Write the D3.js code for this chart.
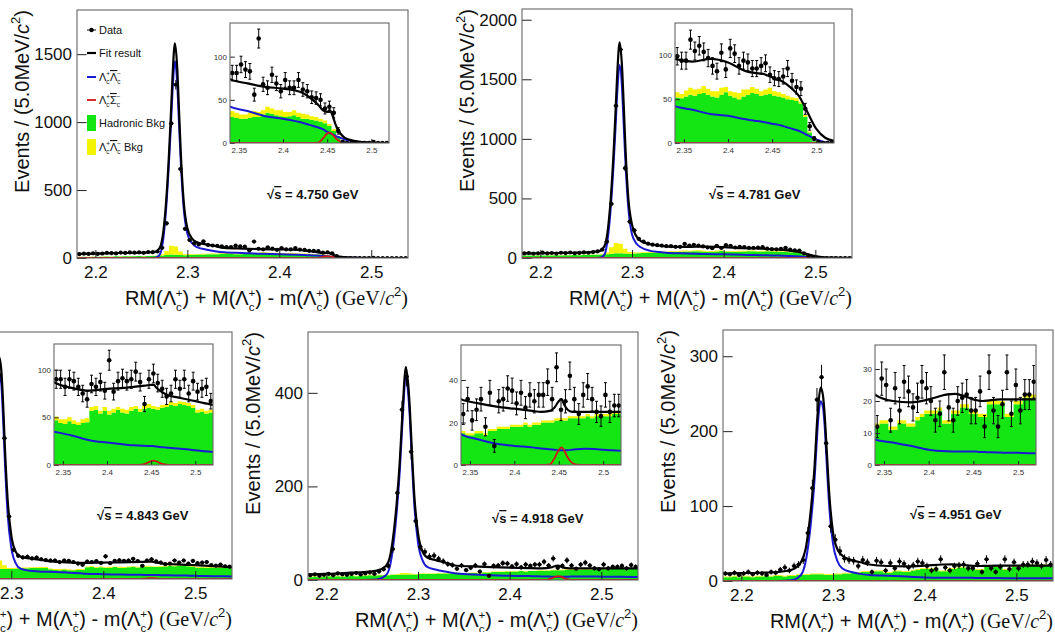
<!DOCTYPE html>
<html>
<head>
<meta charset="utf-8">
<script src="https://cdn.jsdelivr.net/npm/d3@7"></script>
<style>
body { margin: 0; background: #fff; }
text { font-family: "Liberation Sans", Arial, Helvetica, sans-serif; fill: #111; }
</style>
</head>
<body>
<svg id="chart" width="1055" height="632"></svg>
<script>
// 72 bins of 5 MeV from 2.18 to 2.54 GeV/c2
var binLo = 2.18, binW = 0.005;
var xTicks = [2.2, 2.3, 2.4, 2.5];
var insetXTicks = [2.35, 2.4, 2.45, 2.5];

// ---- data points (events per bin) ----
var data4750 = [28,32,30,35,31,33,38,36,34,40,37,41,39,42,38,44,43,
  48,75,255,990,1275,655,215,132,108,100,122,96,92,90,86,
  81,81,91,85,83,56,121,68,64,79,69,60,73,64,64,73,62,60,53,52,50,40,42,35,14,1,0,0,0,0,0,0,1,0,0,0,
  0,0,0,0];
var data4781 = [38,42,36,40,45,39,42,37,44,41,46,40,43,47,44,50,55,
  70,137,454,1277,1750,754,305,232,160,138,120,112,108,104,100,
  99,94,94,118,105,111,104,97,88,82,103,84,108,102,88,94,92,85,85,88,91,78,74,73,76,85,71,64,62,39,19,5,1,0,0,0,
  0,0,0,0];
var data4843 = [48,44,50,46,52,49,47,55,51,53,50,56,54,58,55,60,62,
  75,170,420,820,990,684,304,142,113,105,108,100,104,96,92,
  90,90,82,90,88,82,75,69,85,82,87,78,110,77,88,91,88,90,98,87,64,90,96,86,80,72,75,90,80,90,75,88,77,80,82,67,
  65,70,62,60];
var data4918 = [10,12,9,11,13,10,14,12,11,13,15,12,14,16,13,18,23,
  30,66,186,364,435,274,126,71,60,50,52,45,40,34,32,
  24,31,21,26,31,18,34,9,30,31,36,35,29,34,27,33,30,33,33,39,31,46,26,30,42,31,24,33,37,31,25,23,33,25,28,28,
  30,25,32,28];
var data4951 = [10,9,11,8,10,12,9,11,10,8,12,11,15,18,14,20,22,
  28,64,124,242,272,184,73,55,40,30,28,27,20,28,25,
  12,27,25,14,24,17,26,23,18,21,26,24,20,14,16,29,18,14,20,21,22,17,17,23,12,29,17,12,19,29,16,25,17,22,22,26,
  24,20,28,22];

// ---- hadronic background (green) ----
var hadr4750 = [8,9,8,10,9,10,11,10,12,11,12,13,12,14,13,14,15,
  16,18,22,25,24,22,20,22,24,25,26,27,28,28,29,
  30,29,28,28,29,30,30,33,35,34,32,31,30,31,32,30,28,28,27,26,25,23,20,14,7,2,0,0,0,0,0,0,0,0,0,0,
  0,0,0,0];
var hadr4781 = [18,20,19,21,20,22,21,23,22,24,23,25,24,26,25,27,28,
  30,32,36,40,40,38,36,38,40,42,44,45,46,47,48,
  52,51,53,55,54,56,57,55,53,52,55,58,54,52,50,53,55,57,56,54,55,56,54,53,52,50,49,48,45,30,12,2,0,0,0,0,
  0,0,0,0];
var hadr4843 = [30,32,31,33,34,33,35,36,35,37,38,37,39,40,39,41,42,
  44,46,48,50,50,49,48,50,51,52,52,53,53,54,54,
  47,44,43,46,43,42,44,45,57,58,54,57,53,55,58,55,54,57,59,56,59,60,59,58,60,61,63,62,64,63,62,60,55,56,54,55,
  55,54,56,55];
var hadr4918 = [6,7,6,7,8,7,8,7,8,9,8,9,9,10,9,10,10,
  10,11,11,12,12,12,12,13,13,13,13,14,14,14,14,
  15,14,14,15,15,14,16,16,17,17,17,18,18,18,19,18,19,19,20,20,20,21,21,21,22,22,22,22,23,22,23,23,23,23,24,24,
  24,24,24,24];
var hadr4951 = [5,5,6,5,6,6,5,6,6,7,6,7,7,6,7,7,8,
  8,8,9,9,9,8,8,9,9,10,10,11,11,12,12,
  12,13,13,11,11,13,13,12,12,14,15,16,16,16,17,13,13,16,16,18,18,16,16,15,15,19,19,19,19,15,15,19,19,21,21,21,
  21,21,21,21];

// ---- Lc Lcbar background (yellow, stacked on green) ----
var llbk4750 = [1,1,1,1,1,1,1,1,1,1,1,1,1,1,1,1,1,
  3,10,30,65,60,25,8,5,4,4,5,5,5,6,6,
  7,6,5,5,6,7,6,5,7,6,6,7,6,5,6,5,6,5,4,4,3,3,2,2,1,0,0,0,0,0,0,0,0,0,0,0,
  0,0,0,0];
var llbk4781 = [2,2,2,2,2,2,2,2,2,2,2,2,2,2,2,2,2,
  5,15,55,85,80,40,15,8,6,6,6,6,6,6,6,
  6,5,7,8,7,6,8,7,6,7,8,6,5,6,7,8,6,7,6,5,6,7,5,5,4,4,3,3,2,2,1,0,0,0,0,0,
  0,0,0,0];
var llbk4843 = [3,3,3,3,3,3,3,3,3,3,3,3,3,3,3,3,3,
  5,12,30,45,40,18,6,4,4,4,4,4,4,4,4,
  4,4,5,4,4,3,4,4,4,4,3,4,4,4,3,4,4,4,3,3,4,4,3,3,3,3,3,3,3,3,3,3,3,3,3,3,
  3,3,3,3];
var llbk4918 = [1,1,1,1,1,1,1,1,1,1,1,1,1,1,1,1,1,
  1,1,2,3,3,2,1,1,1,1,1,1,1,1,1,
  1,1,1,1,1,1,1,1,1,1,1,1,1,1,1,1,1,1,1,1,1,1,1,1,1,1,1,1,1,1,1,1,1,1,1,1,
  1,1,1,1];
var llbk4951 = [1,1,1,1,1,1,1,1,1,1,1,1,1,1,1,1,1,
  1,1,1,1,1,1,1,1,1,1,1,1,1,1,1,
  1,1,1,1,1,1,1,1,1,1,1,1,1,1,1,1,1,1,1,1,1,1,1,1,1,1,1,1,1,1,1,1,1,1,1,1,
  1,1,1,1];

// ---- fit curves, read at these masses ----
var curveX = [2.18,2.2,2.22,2.24,2.255,2.265,2.27,2.274,2.277,2.28,2.282,2.284,2.2865,2.289,2.291,2.293,2.296,2.3,2.305,2.31,2.32,2.33,2.34,2.36,2.38,2.4,2.42,2.43,2.44,2.445,2.45,2.453,2.456,2.46,2.465,2.47,2.48,2.49,2.5,2.51,2.52,2.54];

var fit4750 = [30,32,36,38,40,46,75,200,420,760,1040,1350,1580,1400,1080,760,420,220,145,118,100,88,74,69,65,63,59,53,44,38,36,38,32,20,11,6,2.5,1,0.3,0,0,0];
var sig4750 = [0,0,0,0,0,2,25,150,370,700,960,1240,1450,1280,980,690,370,180,110,82,62,50,42,37,31,28,24,21,18,16,13,11.5,10,8,6,4,2,0.7,0.2,0,0,0];
var sc4750  = [0,0,0,0,0,0,0,0,0,0,0,0,0,0,0,0,0,0,0,0,0,0,0,0,0,0,0,0,0.5,5,11,12,10,5,1.5,0.3,0,0,0,0,0,0];

var fit4781 = [38,40,42,45,50,60,100,260,520,900,1220,1560,1810,1620,1280,900,500,280,180,140,115,104,96,93,96,92,82,80,79,77,75,73,72,71,68,64,54,35,16,6,2.5,0.3];
var sig4781 = [0,0,0,0,0,2,30,190,440,800,1090,1400,1620,1440,1110,780,420,200,120,88,60,50,42,38,33,31,27,25.5,24,23,22,21.5,21,20,18.5,17,14,9,4,1,0.3,0];
var sc4781  = [0,0,0,0,0,0,0,0,0,0,0,0,0,0,0,0,0,0,0,0,0,0,0,0,0,0,0,0,0,0,0,0,0,0,0,0,0,0,0,0,0,0];

var fit4843 = [45,47,50,52,55,62,90,200,370,620,810,980,1080,1020,860,640,385,210,130,108,100,94,87,81,78,80,81,82,83,83.5,84,84,81,78,75,73,71,69,67,65,63,58];
var sig4843 = [0,0,0,0,0,2,30,150,320,560,740,910,1000,950,780,570,315,150,75,50,40,37,35,31,26,23.5,21.5,20.7,20.3,20,20,19.8,19.5,19,18.5,18,17.3,16.5,15.5,14.5,13.7,12.5];
var sc4843  = [0,0,0,0,0,0,0,0,0,0,0,0,0,0,0,0,0,0,0,0,0,0,0,0,0,0,0,0,0.3,2,4,4.5,3.8,2,0.6,0.1,0,0,0,0,0,0];

var fit4918 = [12,13,15,17,20,30,55,110,170,250,320,390,455,425,370,290,180,100,60,48,42,37,31,29,27.5,26.5,25.5,25,25.5,27,30,31,28.5,26,25,25,25,25,25,25,25,25];
var sig4918 = [0,0,0,0,1,10,35,90,150,230,300,370,436,405,350,270,160,80,42,28,22,18,14.5,12,10,9,8.3,7.8,7.4,7.2,7,7,7,7,7.2,7.4,7.6,7.5,7.2,6.9,6.7,6.5];
var sc4918  = [0,0,0,0,0,0,0,0,0,0,0,0,0,0,0,0,0,0,0,0,0,0,0,0,0,0,0,0,0.3,3,7,8.3,7,3.5,1,0.2,0,0,0,0,0,0];

var fit4951 = [10,10.5,11,12,15,25,42,75,110,155,200,235,258,248,220,178,115,65,42,34,28,25,22,20,19.6,20.5,22,22.2,21.5,21,20.5,20.3,20.1,20,20.1,20.3,20.5,20.5,20.5,20.5,20.5,20.5];
var sig4951 = [0,0,0,0,1,8,25,57,92,138,180,218,240,232,205,160,98,50,26,17,12,9.5,8,7,6,4.8,4.3,4.2,4.2,4.2,4.2,4.2,4.1,4.1,4,4,3.9,3.8,3.8,3.7,3.7,3.6];
var sc4951  = [0,0,0,0,0,0,0,0,0,0,0,0,0,0,0,0,0,0,0,0,0,0,0,0,0,0,0,0,0,0,0,0,0,0,0,0,0,0,0,0,0,0];

var colGreen = "#14e614", colYellow = "#f4f400", colBlue = "#1a1ad2", colRed = "#d41414";

// panel layout (pixels)
var panels = [
  { e: "4.750", data: data4750, hadr: hadr4750, yel: llbk4750, fit: fit4750, sig: sig4750, sc: sc4750,
    frame: { x0: 77, x1: 408, y0: 10, y1: 258 }, ymax: 1825, yticks: [0, 500, 1000, 1500],
    inset: { x0: 230, x1: 389, y0: 23, y1: 143, ymax: 139, yticks: [0, 50, 100] },
    tag: { x: 267, y: 199 }, legend: true },
  { e: "4.781", data: data4781, hadr: hadr4781, yel: llbk4781, fit: fit4781, sig: sig4781, sc: sc4781,
    frame: { x0: 522, x1: 852, y0: 9, y1: 258 }, ymax: 2090, yticks: [0, 500, 1000, 1500, 2000],
    inset: { x0: 675, x1: 834, y0: 23, y1: 143, ymax: 137, yticks: [0, 50, 100] },
    tag: { x: 709, y: 199 } },
  { e: "4.843", data: data4843, hadr: hadr4843, yel: llbk4843, fit: fit4843, sig: sig4843, sc: sc4843,
    frame: { x0: -99, x1: 232, y0: 332, y1: 579 }, ymax: 1200, yticks: [0, 500, 1000],
    inset: { x0: 54, x1: 213, y0: 344, y1: 465, ymax: 127, yticks: [0, 50, 100] },
    tag: { x: 97, y: 520 } },
  { e: "4.918", data: data4918, hadr: hadr4918, yel: llbk4918, fit: fit4918, sig: sig4918, sc: sc4918,
    frame: { x0: 308, x1: 638, y0: 332, y1: 580 }, ymax: 530, yticks: [0, 200, 400],
    inset: { x0: 461, x1: 621, y0: 345, y1: 465, ymax: 56.5, yticks: [0, 20, 40] },
    tag: { x: 492, y: 523 } },
  { e: "4.951", data: data4951, hadr: hadr4951, yel: llbk4951, fit: fit4951, sig: sig4951, sc: sc4951,
    frame: { x0: 723, x1: 1053, y0: 330, y1: 581 }, ymax: 335, yticks: [0, 100, 200, 300],
    inset: { x0: 875, x1: 1036, y0: 345, y1: 465, ymax: 37.5, yticks: [0, 10, 20, 30] },
    tag: { x: 910, y: 519 } }
];

var svg = d3.select("#chart");
var defs = svg.append("defs");
var clipN = 0;

function binCenter(i) { return binLo + (i + 0.5) * binW; }

// rich text: strings, {p:"Λ", s:"+", bar}, {sup:"2"}, {serif:"..", it}
function rich(t, parts, fs) {
  var cur = 0;
  function span(txt, off, size) {
    var s = t.append("tspan").attr("dy", off - cur).text(txt);
    cur = off;
    if (size) s.attr("font-size", size);
    return s;
  }
  parts.forEach(function(p) {
    if (typeof p === "string") span(p, 0);
    else if (p.serif) {
      span(p.serif, 0).style("font-family", "'Liberation Serif', 'Times New Roman', serif")
        .style("font-style", p.it ? "italic" : null);
    } else if (p.it) span(p.it, 0).style("font-style", "italic");
    else if (p.p) {
      var s = span(p.p, 0);
      if (p.bar) s.style("text-decoration", "overline");
      span("c", fs * 0.3, fs * 0.58);
      span(p.s, -fs * 0.42, fs * 0.58).attr("dx", -fs * 0.3);
    } else if (p.sup) span(p.sup, -fs * 0.45, fs * 0.65);
  });
}

function drawContent(g, x, y, p, i0, i1, small) {
  var cid = "clip" + (clipN++);
  var xr = x.range(), yr = y.range();
  defs.append("clipPath").attr("id", cid).append("rect")
    .attr("x", xr[0]).attr("y", yr[1])
    .attr("width", xr[1] - xr[0]).attr("height", yr[0] - yr[1]);
  var c = g.append("g").attr("clip-path", "url(#" + cid + ")");

  // stacked step histograms
  var steps = d3.range(i0, i1 + 2).map(function(i) {
    var k = Math.min(i, i1);
    return { x: binLo + i * binW, g: p.hadr[k], yl: p.yel[k] };
  });
  c.append("path").datum(steps).attr("fill", colGreen)
    .attr("d", d3.area().curve(d3.curveStepAfter)
      .x(function(d) { return x(d.x); }).y0(y(0)).y1(function(d) { return y(d.g); }));
  c.append("path").datum(steps).attr("fill", colYellow)
    .attr("d", d3.area().curve(d3.curveStepAfter)
      .x(function(d) { return x(d.x); })
      .y0(function(d) { return y(d.g); }).y1(function(d) { return y(d.g + d.yl); }));

  // fit components
  var line = d3.line().curve(d3.curveMonotoneX)
    .x(function(d) { return x(d[0]); }).y(function(d) { return y(d[1]); });
  function pts(arr) { return curveX.map(function(cx, j) { return [cx, arr[j]]; }); }
  c.append("path").attr("d", line(pts(p.sig))).attr("fill", "none")
    .attr("stroke", colBlue).attr("stroke-width", 2);
  c.append("path").attr("d", line(pts(p.sc))).attr("fill", "none")
    .attr("stroke", colRed).attr("stroke-width", 1.8);
  c.append("path").attr("d", line(pts(p.fit))).attr("fill", "none")
    .attr("stroke", "#000").attr("stroke-width", 2.2);

  // data with errors
  var dg = c.append("g").attr("stroke", "#000").attr("stroke-width", 1);
  d3.range(i0, i1 + 1).forEach(function(i) {
    var n = p.data[i], cx = x(binCenter(i)), cy = y(n), e = Math.sqrt(n);
    if (n > 0) {
      dg.append("line").attr("x1", cx).attr("x2", cx).attr("y1", y(n + e)).attr("y2", y(Math.max(n - e, 0)));
      if (small) {
        dg.append("line").attr("x1", cx - 1.5).attr("x2", cx + 1.5).attr("y1", y(n + e)).attr("y2", y(n + e));
        dg.append("line").attr("x1", cx - 1.5).attr("x2", cx + 1.5).attr("y1", y(n - e)).attr("y2", y(n - e));
      }
    }
    if (!small) {
      dg.append("line").attr("x1", x(binLo + i * binW)).attr("x2", x(binLo + (i + 1) * binW))
        .attr("y1", cy).attr("y2", cy);
    }
    dg.append("circle").attr("cx", cx).attr("cy", cy).attr("r", small ? 2.3 : 2.1)
      .attr("fill", "#000").attr("stroke", "none");
  });
}

function drawAxes(g, x, y, xt, yt, fs, tl, pad) {
  var ax = g.append("g").attr("transform", "translate(0," + y.range()[0] + ")")
    .call(d3.axisBottom(x).tickValues(xt).tickSize(-tl).tickPadding(pad.x)
      .tickFormat(function(d) { return String(d); }));
  var ay = g.append("g").attr("transform", "translate(" + x.range()[0] + ",0)")
    .call(d3.axisLeft(y).tickValues(yt).tickSize(-tl * 1.2).tickPadding(pad.y)
      .tickFormat(function(d) { return String(d); }));
  [ax, ay].forEach(function(a) {
    a.attr("font-size", fs).attr("font-family", null);
    a.select(".domain").remove();
    a.selectAll(".tick line").attr("stroke", "#222");
  });
  g.append("rect").attr("x", x.range()[0]).attr("y", y.range()[1])
    .attr("width", x.range()[1] - x.range()[0]).attr("height", y.range()[0] - y.range()[1])
    .attr("fill", "none").attr("stroke", "#666").attr("stroke-width", 1.1);
}

panels.forEach(function(p) {
  var f = p.frame;
  var g = svg.append("g");
  var x = d3.scaleLinear().domain([binLo, binLo + 72 * binW]).range([f.x0, f.x1]);
  var y = d3.scaleLinear().domain([0, p.ymax]).range([f.y1, f.y0]);
  drawContent(g, x, y, p, 0, 71, false);
  drawAxes(g, x, y, xTicks, p.yticks, 17, 8, { x: 8, y: 5 });

  // axis titles
  var tx = g.append("text").attr("x", f.x1).attr("y", f.y1 + 47)
    .attr("text-anchor", "end").attr("font-size", 20);
  rich(tx, ["RM(", { p: "Λ", s: "+" }, ") + M(", { p: "Λ", s: "+" }, ") - m(", { p: "Λ", s: "+" }, ") ",
    { serif: "(GeV/" }, { serif: "c", it: true }, { sup: "2" }, { serif: ")" }], 20);
  var ty = g.append("text").attr("transform", "translate(" + (f.x0 - 48) + "," + f.y0 + ") rotate(-90)")
    .attr("text-anchor", "end").attr("font-size", 20);
  rich(ty, ["Events / (5.0MeV/", { it: "c" }, { sup: "2" }, ")"], 20);

  // energy tag
  var tg = g.append("text").attr("x", p.tag.x).attr("y", p.tag.y)
    .attr("font-size", 13).attr("font-weight", "bold");
  tg.append("tspan").text("√");
  tg.append("tspan").style("text-decoration", "overline").text("s");
  tg.append("tspan").text(" = " + p.e + " GeV");

  // inset zoom of the upper mass region
  var ins = p.inset;
  var gi = svg.append("g");
  gi.append("rect").attr("x", ins.x0).attr("y", ins.y0).attr("width", ins.x1 - ins.x0)
    .attr("height", ins.y1 - ins.y0).attr("fill", "#fff");
  var xi = d3.scaleLinear().domain([2.34, 2.52]).range([ins.x0, ins.x1]);
  var yi = d3.scaleLinear().domain([0, ins.ymax]).range([ins.y1, ins.y0]);
  drawContent(gi, xi, yi, p, 32, 67, true);
  drawAxes(gi, xi, yi, insetXTicks, ins.yticks, 8, 4, { x: 4, y: 3 });
  gi.selectAll(".tick text").style("fill", "#333");

  if (p.legend) {
    var rows = [30, 53, 77, 100, 123, 147];
    var lg = svg.append("g");
    lg.append("line").attr("x1", 87).attr("x2", 96).attr("y1", rows[0]).attr("y2", rows[0]).attr("stroke", "#000");
    lg.append("circle").attr("cx", 91.5).attr("cy", rows[0]).attr("r", 2.2).attr("fill", "#000");
    lg.append("line").attr("x1", 87).attr("x2", 96).attr("y1", rows[1]).attr("y2", rows[1]).attr("stroke", "#000").attr("stroke-width", 2.2);
    lg.append("line").attr("x1", 87).attr("x2", 96).attr("y1", rows[2]).attr("y2", rows[2]).attr("stroke", colBlue).attr("stroke-width", 2);
    lg.append("line").attr("x1", 87).attr("x2", 96).attr("y1", rows[3]).attr("y2", rows[3]).attr("stroke", colRed).attr("stroke-width", 1.8);
    lg.append("rect").attr("x", 87).attr("width", 9).attr("y", rows[4] - 8).attr("height", 16).attr("fill", colGreen);
    lg.append("rect").attr("x", 87).attr("width", 9).attr("y", rows[5] - 8).attr("height", 16).attr("fill", colYellow);
    var labels = [
      ["Data"], ["Fit result"],
      [{ p: "Λ", s: "+" }, { p: "Λ", s: "−", bar: true }],
      [{ p: "Λ", s: "+" }, { p: "Σ", s: "−", bar: true }],
      ["Hadronic Bkg"],
      [{ p: "Λ", s: "+" }, { p: "Λ", s: "−", bar: true }, " Bkg"]
    ];
    labels.forEach(function(l, k) {
      var t = lg.append("text").attr("x", 99).attr("y", rows[k] + 4).attr("font-size", 11);
      rich(t, l, 11);
    });
  }
});
</script>
</body>
</html>
